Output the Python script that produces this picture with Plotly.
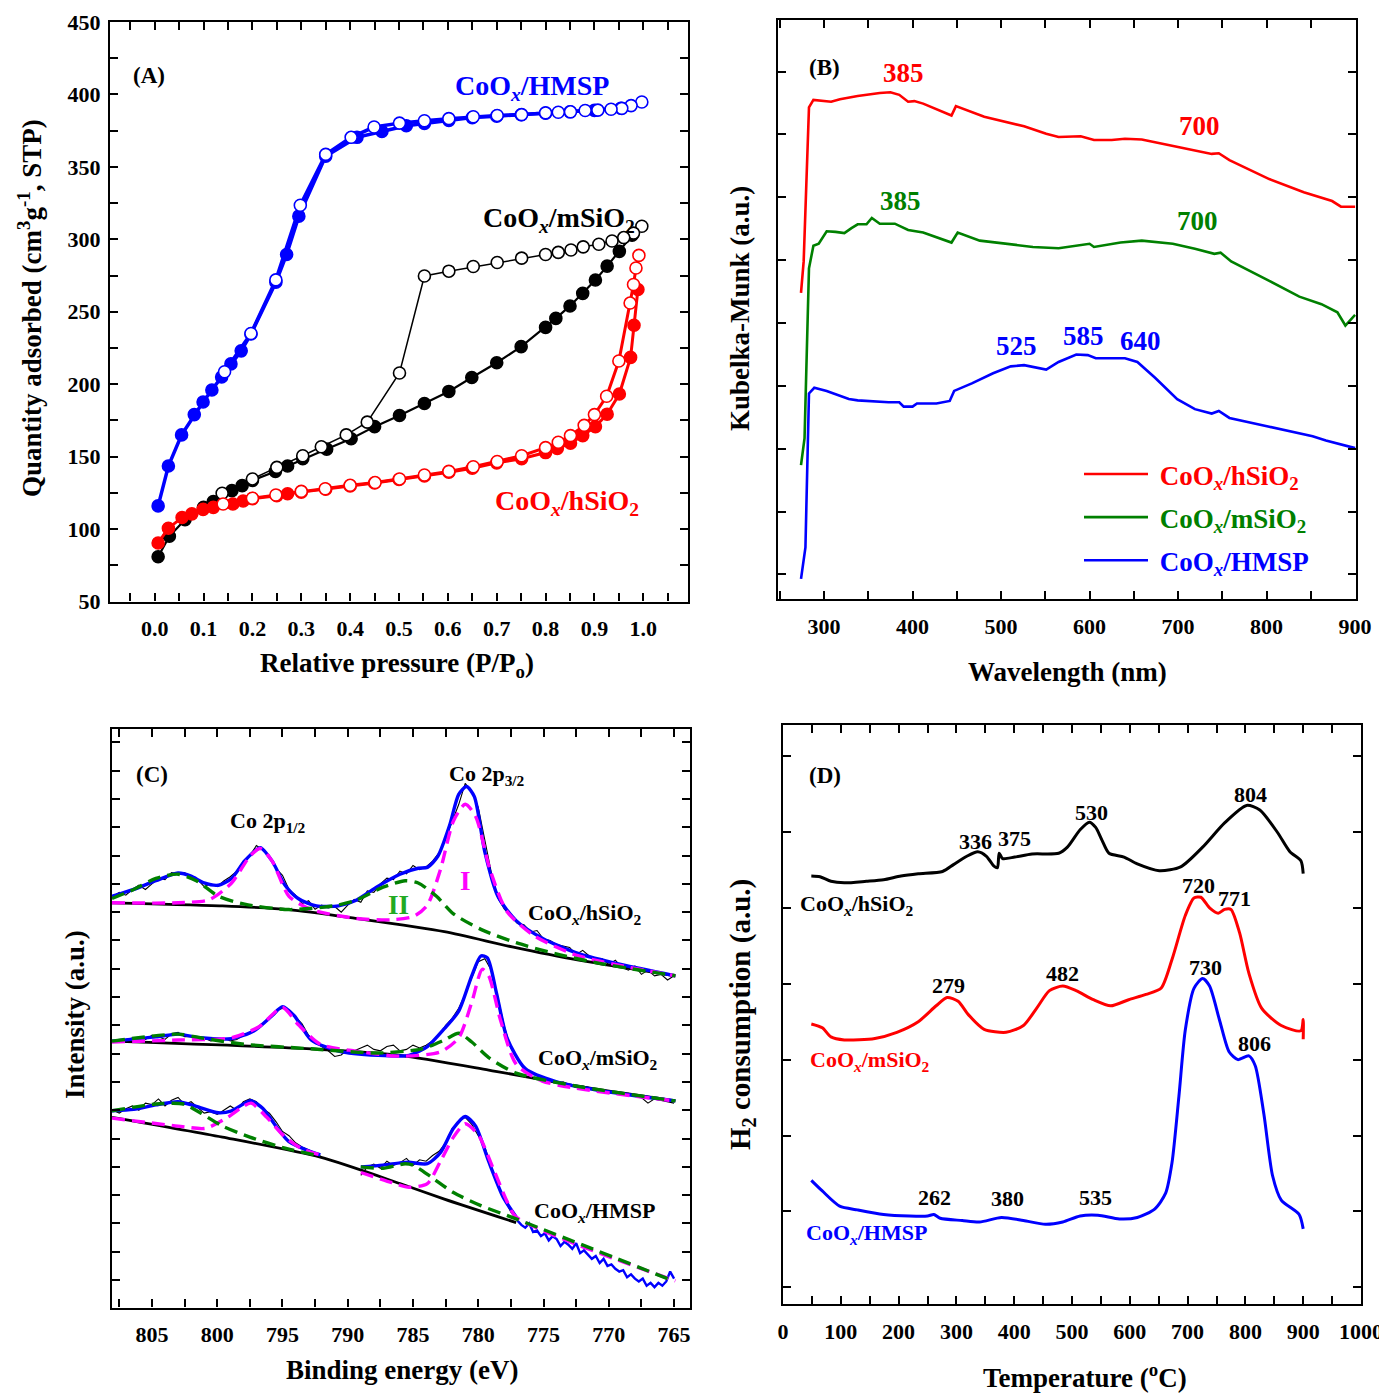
import plotly.graph_objects as go

# the page body adds an 8 px margin, so the figure is drawn 8 px smaller and all pixel positions are shifted
OFF = 8
W, H = 1387 - OFF, 1393 - OFF
FONT = "Liberation Serif"
BLUE, RED, BLACK, GREEN, MAG = "#0000ff", "#ff0000", "#000000", "#008000", "#ff00ff"

# ---------------- Panel A : N2 isotherms ----------------
A_HMSP_ADS_X = [0.007, 0.028, 0.055, 0.081, 0.099, 0.117, 0.137, 0.156, 0.177, 0.197, 0.248, 0.27, 0.295, 0.35,
                0.414, 0.465, 0.515, 0.552, 0.602, 0.65, 0.70, 0.75, 0.80, 0.85, 0.90, 0.954]
A_HMSP_ADS_Y = [116, 143.5, 165, 179, 187.7, 196, 205, 214, 223, 234.6, 270.4, 289.5, 316, 357.4,
                370.4, 374.4, 378.4, 380, 382, 384, 385, 386, 387, 388, 389, 390.5]
A_HMSP_DES_X = [0.997, 0.975, 0.956, 0.934, 0.907, 0.881, 0.851, 0.826, 0.8, 0.751, 0.701, 0.652, 0.602, 0.552,
                0.501, 0.449, 0.402, 0.35, 0.298, 0.248, 0.197, 0.143]
A_HMSP_DES_Y = [394.8, 392.3, 390.4, 389.8, 389.2, 388.9, 388, 387.7, 387.3, 386.1, 385.5, 384.6, 383.3, 381.8,
                380.2, 377.5, 370.4, 358.6, 323.5, 272, 235, 208.6]
A_MSIO_ADS_X = [0.007, 0.03, 0.062, 0.1, 0.12, 0.158, 0.179, 0.2, 0.247, 0.272, 0.303, 0.352, 0.402, 0.45, 0.501,
                0.552, 0.602, 0.649, 0.7, 0.75, 0.8, 0.821, 0.85, 0.876, 0.902, 0.926, 0.951, 0.977]
A_MSIO_ADS_Y = [80.9, 95, 106.5, 115, 119, 126.5, 130, 133.6, 139.8, 143.5, 148.5, 155.2, 162.3, 170.7, 178.4,
                186.7, 195, 204.6, 214.8, 225.9, 239.2, 245.4, 254, 262.7, 271.9, 281.5, 291.7, 302.8]
A_MSIO_DES_X = [0.997, 0.98, 0.96, 0.936, 0.909, 0.877, 0.852, 0.826, 0.8, 0.751, 0.701, 0.652, 0.602, 0.552,
                0.501, 0.435, 0.392, 0.341, 0.303, 0.25, 0.2, 0.138]
A_MSIO_DES_Y = [309, 304.3, 301.2, 298.8, 296.6, 294.8, 292.6, 291, 289.5, 287, 284, 281.2, 278, 274.7,
                207.7, 173.8, 165, 156.8, 150.6, 142.6, 134.6, 124.7]
A_HSIO_ADS_X = [0.007, 0.028, 0.056, 0.076, 0.099, 0.12, 0.16, 0.181, 0.2, 0.25, 0.272, 0.3, 0.35, 0.4, 0.45, 0.5,
                0.552, 0.602, 0.65, 0.7, 0.751, 0.8, 0.824, 0.851, 0.876, 0.902, 0.926, 0.951, 0.974, 0.981, 0.989]
A_HSIO_ADS_Y = [90.4, 100.6, 108, 110.5, 113.6, 115, 117.3, 119.4, 121, 123, 124.4, 125.5, 127.5, 129.8, 131.8,
                134.2, 136.7, 139.2, 142, 145.7, 148.5, 152.8, 155.6, 159.3, 164.5, 170.7, 179.3, 193.2, 218.5,
                240.7, 265.4]
A_HSIO_DES_X = [0.991, 0.985, 0.98, 0.973, 0.95, 0.925, 0.9, 0.879, 0.851, 0.826, 0.8, 0.751, 0.701, 0.652,
                0.602, 0.552, 0.501, 0.451, 0.4, 0.349, 0.3, 0.248, 0.2, 0.14]
A_HSIO_DES_Y = [288.9, 280.2, 268.8, 256, 216, 191.7, 179, 171.6, 164.5, 159.9, 156.2, 150.6, 146.6, 143,
                139.8, 137.3, 134.6, 132.1, 130.2, 127.8, 126, 123.5, 121.3, 117.3]

# ---------------- Panel B : UV-vis DRS ----------------
B_RED_X = [274, 277, 283, 288, 308, 318, 338, 363, 375, 385, 395, 402, 412, 444, 449, 481, 526, 551, 565, 590,
           605, 625, 640, 659, 689, 704, 738, 746, 758, 803, 842, 874, 884, 900]
B_RED_Y = [5.48, 5.98, 8.43, 8.55, 8.52, 8.56, 8.61, 8.66, 8.67, 8.63, 8.52, 8.53, 8.49, 8.30, 8.45, 8.28, 8.13,
           8.01, 7.96, 7.97, 7.91, 7.91, 7.93, 7.92, 7.83, 7.79, 7.69, 7.70, 7.59, 7.29, 7.08, 6.94, 6.85, 6.85]
B_GRN_X = [274, 278, 283, 288, 294, 303, 313, 323, 331, 338, 348, 354, 363, 380, 395, 412, 444, 451, 476, 506,
           536, 565, 585, 600, 605, 635, 659, 694, 719, 741, 748, 760, 803, 837, 862, 880, 889, 900]
B_GRN_Y = [2.74, 3.17, 5.87, 6.23, 6.26, 6.46, 6.45, 6.43, 6.51, 6.57, 6.57, 6.67, 6.58, 6.58, 6.48, 6.44, 6.28,
           6.44, 6.31, 6.26, 6.21, 6.19, 6.23, 6.26, 6.21, 6.28, 6.31, 6.26, 6.18, 6.10, 6.12, 5.98, 5.67, 5.42,
           5.30, 5.17, 4.96, 5.13]
B_BLU_X = [274, 279, 283, 289, 303, 318, 328, 338, 358, 373, 385, 390, 400, 405, 427, 442, 447, 467, 491, 511,
           526, 551, 565, 585, 598, 607, 640, 654, 674, 699, 719, 738, 746, 758, 803, 852, 867, 900]
B_BLU_Y = [0.93, 1.43, 3.88, 3.97, 3.92, 3.84, 3.79, 3.77, 3.75, 3.74, 3.74, 3.67, 3.67, 3.72, 3.72, 3.76, 3.92,
           4.04, 4.20, 4.31, 4.33, 4.26, 4.38, 4.50, 4.49, 4.44, 4.44, 4.38, 4.13, 3.79, 3.63, 3.56, 3.60, 3.49,
           3.35, 3.20, 3.13, 3.01]

# ---------------- Panel C : XPS Co 2p ----------------
RAW_X = [808.0, 807.5, 807.0, 806.5, 806.0, 805.5, 805.0, 804.5, 804.0, 803.5, 803.0, 802.5, 802.0, 801.5, 801.0,
         800.5, 800.0, 799.5, 799.0, 798.5, 798.0, 797.5, 797.0, 796.5, 796.0, 795.5, 795.0, 794.5, 794.0, 793.5,
         793.0, 792.5, 792.0, 791.5, 791.0, 790.5, 790.0, 789.5, 789.0, 788.5, 788.0, 787.5, 787.0, 786.5, 786.0,
         785.5, 785.0, 784.5, 784.0, 783.5, 783.0, 782.5, 782.0, 781.5, 781.0, 780.5, 780.0, 779.5, 779.0, 778.5,
         778.0, 777.5, 777.0, 776.5, 776.0, 775.5, 775.0, 774.5, 774.0, 773.5, 773.0, 772.5, 772.0, 771.5, 771.0,
         770.5, 770.0, 769.5, 769.0, 768.5, 768.0, 767.5, 767.0, 766.5, 766.0, 765.5, 765.0]
C1_RAW_Y = [14.55, 14.7, 14.6, 14.8, 14.95, 14.8, 15.0, 15.2, 15.15, 15.4,
            15.35, 15.4, 15.2, 15.15, 14.9, 15.0, 14.9, 15.1, 15.25, 15.45,
            15.8, 16.0, 16.35, 16.2, 16.0, 15.55, 15.3, 14.8, 14.6, 14.3,
            14.4, 14.1, 14.25, 14.15, 14.2, 14.0, 14.25, 14.45, 14.35, 14.75,
            14.7, 15.0, 15.2, 15.15, 15.45, 15.35, 15.65, 15.5, 15.6, 15.8,
            16.1, 16.6, 17.2, 17.8, 18.55, 18.25, 17.7, 16.5, 15.4, 14.5,
            14.1, 13.85, 13.6, 13.55, 13.3, 13.35, 13.05, 13.0, 12.85, 12.8,
            12.75, 12.5, 12.65, 12.45, 12.3, 12.35, 12.15, 12.3, 12.05, 11.95,
            12.1, 11.8, 11.95, 11.75, 11.8, 11.6, 11.75]
C2_RAW_Y = [9.45, 9.4, 9.5, 9.55, 9.45, 9.5, 9.65, 9.6, 9.5, 9.7,
            9.75, 9.6, 9.6, 9.5, 9.55, 9.45, 9.5, 9.55, 9.45, 9.5,
            9.65, 9.75, 9.9, 10.05, 10.3, 10.5, 10.6, 10.55, 10.3, 10.05,
            9.65, 9.4, 9.25, 9.1, 8.9, 8.95, 9.15, 9.1, 9.2, 9.3,
            9.15, 9.1, 9.25, 9.3, 9.1, 9.15, 9.3, 9.2, 9.3, 9.45,
            9.65, 10.0, 10.25, 10.6, 11.1, 11.7, 12.25, 12.35, 11.95, 11.0,
            9.95, 9.2, 8.8, 8.45, 8.3, 8.25, 8.1, 8.05, 7.95, 8.0,
            7.9, 7.8, 7.85, 7.8, 7.7, 7.7, 7.65, 7.6, 7.55, 7.6,
            7.5, 7.45, 7.25, 7.4, 7.35, 7.3, 7.25]
C3_RAW1_X = [808.0, 807.5, 807.0, 806.5, 806.0, 805.5, 805.0, 804.5, 804.0, 803.5, 803.0, 802.5, 802.0, 801.5,
             801.0, 800.5, 800.0, 799.5, 799.0, 798.5, 798.0, 797.5, 797.0, 796.5, 796.0, 795.5, 795.0, 794.5,
             794.0, 793.5, 793.0, 792.5, 792.0]
C3_RAW1_Y = [7.0, 6.9, 7.05, 7.15, 7.0, 7.25, 7.2, 7.4, 7.15, 7.35, 7.45, 7.2, 7.3, 7.1, 6.9, 6.95, 6.85, 7.0,
             7.15, 7.0, 7.3, 7.4, 7.3, 7.05, 6.9, 6.6, 6.25, 6.1, 5.85, 5.7, 5.6, 5.5, 5.35]
C3_RAW2_X = [789.0, 788.5, 788.0, 787.5, 787.0, 786.5, 786.0, 785.5, 785.0, 784.5, 784.0, 783.5, 783.0, 782.5,
             782.0, 781.5, 781.0, 780.5, 780.0, 779.5, 779.0, 778.5, 778.0, 777.5, 777.0]
C3_RAW2_Y = [4.7, 5.0, 5.1, 4.95, 5.2, 5.05, 5.15, 5.3, 5.05, 5.25, 5.2, 5.4, 5.55, 5.85, 6.35, 6.6, 6.75, 6.5,
             6.1, 5.7, 5.0, 4.35, 3.85, 3.4, 3.1]
C3_RAW3_X = [777.0, 776.7, 776.4, 776.1, 775.8, 775.5, 775.2, 774.9, 774.6, 774.3, 774.0, 773.7, 773.4, 773.1,
             772.8, 772.5, 772.2, 771.9, 771.6, 771.3, 771.0, 770.7, 770.4, 770.1, 769.8, 769.5, 769.2, 768.9,
             768.6, 768.3, 768.0, 767.7, 767.4, 767.1, 766.8, 766.5, 766.2, 765.9, 765.6, 765.3, 765.0]
C3_RAW3_Y = [3.1, 2.95, 2.85, 3.0, 2.7, 2.75, 2.55, 2.65, 2.4, 2.55, 2.45, 2.2, 2.35, 2.25, 2.1, 2.3, 1.95, 2.05,
             1.9, 1.75, 1.85, 1.6, 1.75, 1.5, 1.55, 1.4, 1.3, 1.35, 1.1, 1.2, 1.05, 0.95, 1.05, 0.8, 0.9, 0.75,
             0.9, 0.8, 0.95, 1.3, 1.05]

C1_BASE_X = [808.06, 799.6, 794.5, 789.4, 782.6, 777.4, 772.3, 764.9]
C1_BASE_Y = [14.33, 14.22, 14.09, 13.78, 13.31, 12.77, 12.30, 11.75]
C1_FIT_X = [808.06, 806.4, 804.7, 803, 802, 801, 799.9, 798.9, 797.9, 797, 796.7, 795.8, 794.8, 793.8, 792.4,
            790.7, 789.4, 787.7, 786, 784.6, 783.9, 783.1, 782.2, 781.5, 780.9, 780.3, 779.5, 778.5, 777.1, 775.1,
            772.3, 769, 764.9]
C1_FIT_Y = [14.56, 14.8, 15.11, 15.38, 15.27, 15.03, 14.95, 15.19, 15.81, 16.2, 16.28, 15.81, 14.95, 14.48, 14.22,
            14.22, 14.41, 14.91, 15.34, 15.55, 15.58, 15.97, 17.06, 18.16, 18.44, 18.08, 16.13, 14.56, 13.7, 13.08,
            12.53, 12.14, 11.75]
C1_P1_X = [808.06, 803, 800.6, 798.9, 797.5, 796.7, 795.8, 794.5, 792.8, 789.4, 786.6, 784.9, 783.9, 782.9, 781.9,
           781.0, 780.2, 779.1, 777.8, 775.7, 772.3, 764.9]
C1_P1_Y = [14.33, 14.33, 14.44, 15.03, 15.97, 16.25, 15.81, 14.56, 14.09, 13.78, 13.73, 13.86, 14.25, 15.5, 17.22,
           17.81, 17.38, 15.5, 14.02, 13.16, 12.45, 11.75]
C1_P2_X = [808.06, 806.4, 804.7, 803, 801.6, 799.9, 797.9, 794.5, 791.1, 789.4, 787.3, 785.6, 784.6, 783.2, 781.9,
           779.8, 777.1, 774.1, 770.7, 764.9]
C1_P2_Y = [14.48, 14.8, 15.19, 15.34, 15.11, 14.56, 14.28, 14.09, 14.22, 14.41, 14.88, 15.11, 15.03, 14.56, 13.94,
           13.39, 12.92, 12.53, 12.19, 11.75]

C2_BASE_X = [808.06, 792.8, 786, 779.2, 772.3, 764.9]
C2_BASE_Y = [9.44, 9.17, 8.94, 8.42, 7.84, 7.33]
C2_FIT_X = [808.06, 804.7, 803, 801.3, 798.9, 797.2, 795.8, 795.0, 794.1, 792.8, 790.7, 787.7, 785.3, 783.9, 782.6,
            781.5, 780.5, 779.8, 779.3, 778.6, 777.8, 776.4, 774.0, 770.6, 764.9]
C2_FIT_Y = [9.44, 9.59, 9.69, 9.56, 9.53, 9.8, 10.34, 10.66, 10.34, 9.48, 9.09, 8.94, 8.94, 9.25, 9.88, 10.5, 11.75,
            12.45, 12.38, 11.13, 9.56, 8.47, 8.0, 7.69, 7.33]
C2_P1_X = [808.06, 803, 798.9, 796.8, 795.0, 793.8, 792.1, 789.4, 786, 782.9, 781.5, 780.5, 779.7, 779.2, 778.3,
           777.1, 775.1, 764.9]
C2_P1_Y = [9.41, 9.48, 9.56, 9.95, 10.63, 10.03, 9.33, 9.09, 8.91, 9.06, 9.56, 10.81, 11.98, 11.75, 10.19, 8.63,
           8.03, 7.33]
C2_P2_X = [808.06, 803, 801.3, 797.9, 792.8, 787.7, 784.3, 782.6, 781.5, 780.5, 779.2, 777.1, 772.3, 764.9]
C2_P2_Y = [9.44, 9.69, 9.56, 9.33, 9.17, 9.02, 9.17, 9.48, 9.72, 9.41, 8.86, 8.31, 7.84, 7.33]

C3_BASE_X = [808.06, 799.6, 792.1, 786, 782.6, 777.1]
C3_BASE_Y = [6.75, 6.05, 5.34, 4.41, 3.86, 3.03]
C3_FIT1_X = [808.06, 806.4, 804.7, 803, 801.6, 799.9, 798.9, 797.7, 797.4, 796.5, 795.5, 794.5, 792.8, 792.1]
C3_FIT1_Y = [6.98, 7.03, 7.19, 7.3, 7.14, 6.91, 6.98, 7.3, 7.34, 7.06, 6.44, 5.89, 5.53, 5.42]
C3_FIT2_X = [789.0, 787.3, 786, 785.3, 783.9, 782.9, 781.9, 781.0, 780.2, 779.2, 778.1, 777.1]
C3_FIT2_Y = [5.0, 5.06, 5.14, 5.16, 5.11, 5.5, 6.36, 6.78, 6.44, 5.19, 3.94, 3.23]
C3_P1A_X = [808.06, 803, 800.9, 799.2, 798.0, 797.4, 796.2, 794.8, 793.4, 792.1]
C3_P1A_Y = [6.72, 6.44, 6.36, 6.75, 7.14, 7.25, 6.75, 6.05, 5.61, 5.42]
C3_P1B_X = [789.0, 786.6, 785.3, 783.9, 782.9, 781.9, 781.0, 780.0, 778.8, 777.8, 777.1, 764.9]
C3_P1B_Y = [4.8, 4.44, 4.28, 4.41, 5.19, 6.05, 6.52, 6.13, 4.88, 3.78, 3.23, 0.97]
C3_P2A_X = [808.06, 804.7, 802.6, 801.3, 799.6, 797.5, 794.8, 792.1]
C3_P2A_Y = [6.98, 7.22, 7.22, 6.91, 6.44, 6.05, 5.66, 5.38]
C3_P2B_X = [789.0, 787.3, 785.6, 785.0, 783.6, 781.9, 779.8, 777.1, 765.5]
C3_P2B_Y = [5.0, 4.95, 5.11, 5.06, 4.64, 4.09, 3.63, 3.16, 1.05]

# ---------------- Panel D : H2-TPR ----------------
D_BLK_X = [49, 64, 83, 106, 144, 174, 204, 234, 276, 295, 318, 337, 352, 365, 371, 374, 380, 401, 431, 477, 492,
           514, 530, 541, 552, 564, 590, 613, 651, 688, 726, 764, 802, 825, 855, 877, 896, 900]
D_BLK_Y = [6.42, 6.41, 6.35, 6.33, 6.35, 6.37, 6.42, 6.45, 6.48, 6.57, 6.68, 6.74, 6.68, 6.55, 6.53, 6.72, 6.65,
           6.67, 6.71, 6.72, 6.80, 7.03, 7.13, 7.06, 6.89, 6.72, 6.67, 6.58, 6.49, 6.54, 6.80, 7.12, 7.35, 7.29,
           7.0, 6.74, 6.62, 6.45]
D_RED_X = [49, 68, 83, 106, 159, 197, 234, 265, 284, 303, 321, 348, 386, 416, 439, 461, 484, 507, 537, 567, 598,
           628, 654, 673, 696, 711, 723, 738, 753, 764, 775, 790, 806, 828, 862, 896, 900, 900]
D_RED_Y = [4.47, 4.42, 4.30, 4.26, 4.28, 4.36, 4.50, 4.71, 4.82, 4.77, 4.59, 4.40, 4.36, 4.45, 4.68, 4.91, 4.97,
           4.91, 4.79, 4.71, 4.79, 4.86, 4.94, 5.32, 5.90, 6.13, 6.14, 6.0, 5.93, 5.98, 5.98, 5.67, 5.14, 4.68,
           4.45, 4.38, 4.53, 4.27]
D_BLU_X = [49, 68, 98, 129, 174, 219, 250, 261, 272, 310, 340, 378, 416, 454, 484, 514, 545, 582, 613, 643, 662,
           673, 685, 696, 711, 726, 738, 756, 772, 787, 806, 817, 832, 847, 862, 893, 900]
D_BLU_Y = [2.41, 2.27, 2.07, 2.02, 1.96, 1.94, 1.94, 1.96, 1.91, 1.88, 1.86, 1.92, 1.88, 1.83, 1.86, 1.94, 1.95,
           1.9, 1.92, 2.03, 2.24, 2.64, 3.52, 4.39, 4.94, 5.07, 4.97, 4.50, 4.10, 4.0, 4.05, 3.92, 3.28, 2.47,
           2.15, 1.96, 1.77]

# ---------------- labels ----------------
HSIO = "CoO<sub><i>x</i></sub>/hSiO<sub>2</sub>"
MSIO = "CoO<sub><i>x</i></sub>/mSiO<sub>2</sub>"
HMSP = "CoO<sub><i>x</i></sub>/HMSP"

fig = go.Figure()


def line(x, y, color, width, ax, dash=None, shape="linear", name=None, legend=False, group=None):
    fig.add_trace(go.Scatter(x=x, y=y, mode="lines", xaxis="x" + ax, yaxis="y" + ax,
                             line=dict(color=color, width=width, dash=dash, shape=shape,
                                       smoothing=0.7 if shape == "spline" else None),
                             name=name, showlegend=legend, legendgroup=group, hoverinfo="skip"))


def iso(x, y, color, width, filled):
    fig.add_trace(go.Scatter(x=x, y=y, mode="lines+markers", xaxis="x1", yaxis="y1", showlegend=False,
                             line=dict(color=color, width=width),
                             marker=dict(symbol="circle", size=12,
                                         color=color if filled else "white",
                                         line=dict(color=color, width=1.6))))


# Panel A
iso(A_MSIO_ADS_X, A_MSIO_ADS_Y, BLACK, 2.2, True)
iso(A_MSIO_DES_X, A_MSIO_DES_Y, BLACK, 1.5, False)
iso(A_HSIO_ADS_X, A_HSIO_ADS_Y, RED, 3, True)
iso(A_HSIO_DES_X, A_HSIO_DES_Y, RED, 3, False)
iso(A_HMSP_ADS_X, A_HMSP_ADS_Y, BLUE, 3.5, True)
iso(A_HMSP_DES_X, A_HMSP_DES_Y, BLUE, 3.5, False)


# Panel B
def cname(t, c):
    return "&nbsp;<span style='color:%s'>%s</span>" % (c, t)


line(B_RED_X, B_RED_Y, RED, 2.6, "2", name=cname(HSIO, RED), legend=True, group="r")
line(B_GRN_X, B_GRN_Y, GREEN, 2.6, "2", name=cname(MSIO, GREEN), legend=True, group="g")
line(B_BLU_X, B_BLU_Y, BLUE, 2.6, "2", name=cname(HMSP, BLUE), legend=True, group="b")

# Panel C
DASH = "13px,7px"
line(RAW_X, C1_RAW_Y, BLACK, 1.1, "3")
line(RAW_X, C2_RAW_Y, BLACK, 1.1, "3")
line(C3_RAW1_X + [None] + C3_RAW2_X, C3_RAW1_Y + [None] + C3_RAW2_Y, BLACK, 1.1, "3")
for bx, by in [(C1_BASE_X, C1_BASE_Y), (C2_BASE_X, C2_BASE_Y), (C3_BASE_X, C3_BASE_Y)]:
    line(bx, by, BLACK, 2.8, "3", shape="spline")
line(C3_RAW3_X, C3_RAW3_Y, BLUE, 2.4, "3")
for fx, fy in [(C1_FIT_X, C1_FIT_Y), (C2_FIT_X, C2_FIT_Y), (C3_FIT1_X, C3_FIT1_Y), (C3_FIT2_X, C3_FIT2_Y)]:
    line(fx, fy, BLUE, 3.4, "3", shape="spline")
for px, py in [(C1_P1_X, C1_P1_Y), (C2_P1_X, C2_P1_Y), (C3_P1A_X, C3_P1A_Y), (C3_P1B_X, C3_P1B_Y)]:
    line(px, py, MAG, 3.4, "3", dash=DASH, shape="spline")
for px, py in [(C1_P2_X, C1_P2_Y), (C2_P2_X, C2_P2_Y), (C3_P2A_X, C3_P2A_Y), (C3_P2B_X, C3_P2B_Y)]:
    line(px, py, GREEN, 3.4, "3", dash=DASH, shape="spline")

# Panel D
line(D_BLK_X, D_BLK_Y, BLACK, 3, "4", shape="spline")
line(D_RED_X, D_RED_Y, RED, 3, "4", shape="spline")
line(D_BLU_X, D_BLU_Y, BLUE, 3, "4", shape="spline")


# ---------------- axes ----------------
def dom_x(a, b):
    return [(a - OFF) / W, (b - OFF) / W]


def dom_y(top, bottom):
    return [1 - (bottom - OFF) / H, 1 - (top - OFF) / H]


def ax(domain, rng, anchor, dtick=None, minor=None, labels=True, tickvals=None, fmt=None, standoff=6):
    d = dict(domain=domain, range=rng, anchor=anchor, showline=True, linewidth=2.2, linecolor="black",
             mirror="ticks", ticks="inside", ticklen=8, tickwidth=2, tickcolor="black", showgrid=False,
             zeroline=False, showticklabels=labels, ticklabelstandoff=standoff, automargin=False,
             tickfont=dict(family=FONT, size=22, color="black", weight="bold"))
    if tickvals is not None:
        d["tickvals"] = tickvals
    else:
        d["dtick"] = dtick
        d["tick0"] = 0
    if minor:
        d["minor"] = dict(dtick=minor, ticks="inside", ticklen=8, tickwidth=2, tickcolor="black", showgrid=False)
    if fmt:
        d["tickformat"] = fmt
    return d


layout = dict(
    width=W, height=H, margin=dict(l=0, r=0, t=0, b=0, autoexpand=False),
    paper_bgcolor="white", plot_bgcolor="white",
    font=dict(family=FONT, color="black", weight="bold"),
    xaxis1=ax(dom_x(110, 688), [-0.0915, 1.0915], "y1", dtick=0.1, minor=0.05, fmt=".1f"),
    yaxis1=ax(dom_y(22, 601.5), [50, 450], "x1", dtick=50, minor=25, standoff=3),
    xaxis2=ax(dom_x(778, 1356), [248, 901], "y2", dtick=100, minor=50),
    yaxis2=ax(dom_y(20, 599), [0.61, 9.82], "x2", labels=False, tickvals=[1, 2, 3, 4, 5, 6, 7, 8, 9]),
    xaxis3=ax(dom_x(112, 690), [808.06, 763.78], "y3", dtick=5, minor=2.5),
    yaxis3=ax(dom_y(729, 1307.5), [0.03, 20.47], "x3", labels=False, dtick=1),
    xaxis4=ax(dom_x(783, 1361), [0, 1000], "y4", dtick=100, minor=50),
    yaxis4=ax(dom_y(725, 1304), [0.78, 8.41], "x4", labels=False, tickvals=[1, 2, 3, 4, 5, 6, 7, 8]),
    legend=dict(x=(1079 - OFF) / W, y=1 - (450 - OFF) / H, xanchor="left", yanchor="top",
                bgcolor="rgba(0,0,0,0)",
                font=dict(family=FONT, size=27, weight="bold"), tracegroupgap=5, itemwidth=64),
)
fig.update_layout(**layout)

ann = []


def note(x, y, text, ax_id, size, color="black", xanchor="center"):
    ann.append(dict(x=x, y=y, xref="x" + ax_id, yref="y" + ax_id, text=text, showarrow=False,
                    xanchor=xanchor, yanchor="middle",
                    font=dict(family=FONT, size=size, color=color, weight="bold")))


def ptitle(px, py, text, angle=0, size=27):
    ann.append(dict(x=(px - OFF) / W, y=1 - (py - OFF) / H, xref="paper", yref="paper", text=text,
                    showarrow=False, xanchor="center", yanchor="middle", textangle=angle,
                    font=dict(family=FONT, size=size, color="black", weight="bold")))


# Panel A notes
note(-0.011, 413, "(A)", "1", 23)
note(0.773, 405, HMSP, "1", 28, BLUE)
note(0.828, 314, MSIO, "1", 28, BLACK)
note(0.844, 118, HSIO, "1", 28, RED)
# Panel B notes
note(301, 9.06, "(B)", "2", 23)
for x, y, t, c in [(390, 8.97, "385", RED), (724, 8.13, "700", RED), (386.5, 6.94, "385", GREEN),
                   (722, 6.62, "700", GREEN), (517, 4.63, "525", BLUE), (593, 4.80, "585", BLUE),
                   (657, 4.72, "640", BLUE)]:
    note(x, y, t, "2", 27, c)
# Panel C notes
note(805, 18.86, "(C)", "3", 23)
note(779.3, 18.86, "Co 2p<sub>3/2</sub>", "3", 22)
note(796.1, 17.2, "Co 2p<sub>1/2</sub>", "3", 22)
note(781, 15.1, "I", "3", 27, MAG)
note(786.1, 14.25, "II", "3", 27, "#22aa22")
note(771.8, 13.94, HSIO, "3", 22)
note(770.8, 8.81, MSIO, "3", 22)
note(771.1, 3.39, HMSP, "3", 22)
# Panel D notes
note(72, 7.75, "(D)", "4", 23)
for x, y, t in [(809, 7.5, "804"), (533, 7.26, "530"), (333, 6.87, "336"), (401, 6.91, "375"),
                (719, 6.30, "720"), (781, 6.12, "771"), (287, 4.98, "279"), (484, 5.14, "482"),
                (731, 5.22, "730"), (815, 4.21, "806"), (262, 2.19, "262"), (388, 2.17, "380"),
                (541, 2.18, "535")]:
    note(x, y, t, "4", 22)
note(128.6, 6.04, HSIO, "4", 22, BLACK)
note(149.8, 3.98, MSIO, "4", 22, RED)
note(143.7, 1.70, HMSP, "4", 22, BLUE)

# axis titles
ptitle(397, 665, "Relative pressure (P/P<sub>o</sub>)")
ptitle(30, 308, "Quantity adsorbed (cm<sup>3</sup>g<sup>-1</sup>, STP)", -90)
ptitle(1067, 672, "Wavelength (nm)")
ptitle(740, 308, "Kubelka-Munk (a.u.)", -90)
ptitle(402, 1370, "Binding energy (eV)")
ptitle(75, 1015, "Intensity (a.u.)", -90)
ptitle(1085, 1376, "Temperature (<sup>o</sup>C)")
ptitle(742, 1015, "H<sub>2</sub> consumption (a.u.)", -90, size=29)

fig.update_layout(annotations=ann)
fig.write_html("out.html")
